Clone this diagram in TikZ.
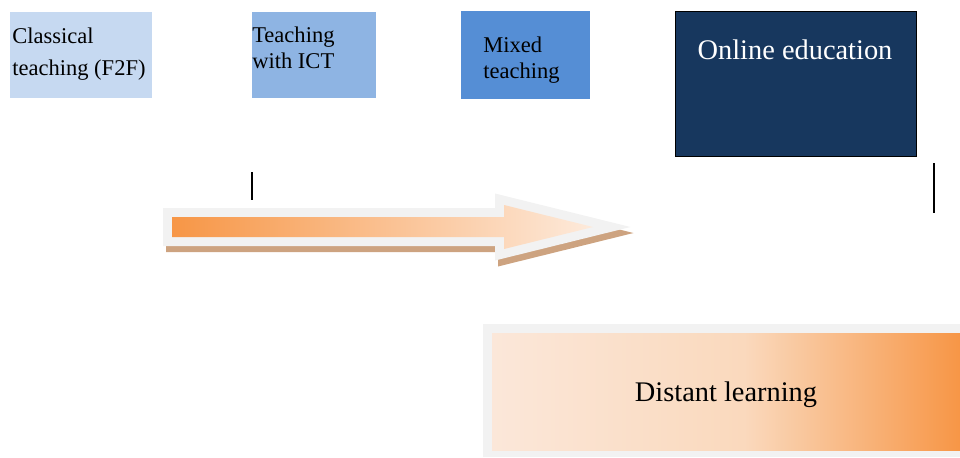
\documentclass[tikz,border=0pt]{standalone}
\usepackage{fontspec}
\setmainfont{Liberation Serif}
\definecolor{c1}{RGB}{198,217,241}
\definecolor{c2}{RGB}{142,180,227}
\definecolor{c3}{RGB}{85,142,213}
\definecolor{c4}{RGB}{23,55,94}
\definecolor{frame}{RGB}{242,242,242}
\definecolor{shadowtan}{RGB}{205,163,128}
\definecolor{orng}{RGB}{247,150,70}
\definecolor{peach}{RGB}{253,234,219}
\pgfdeclarehorizontalshading{distshade}{100bp}{rgb(0bp)=(0.984,0.906,0.851); rgb(25bp)=(0.984,0.906,0.851); rgb(52bp)=(0.98,0.85,0.74); rgb(75bp)=(0.969,0.588,0.275); rgb(100bp)=(0.969,0.588,0.275)}
\tikzset{
  box/.style={inner sep=0pt, outer sep=0pt},
  smalltxt/.style={inner sep=0pt, align=left, font=\fontsize{16.9}{19.5}\selectfont},
  bigtxt/.style={inner sep=0pt, font=\fontsize{21.3}{25}\selectfont},
  tick/.style={line width=1.5pt, black},
}
\begin{document}
\begin{tikzpicture}[x=0.75pt,y=-0.75pt]
\useasboundingbox (0,0) rectangle (960,457);
% boxes
\node[box, fill=c1, minimum width=142*0.75pt, minimum height=86*0.75pt] (b1) at (81,55) {};
\node[box, fill=c2, minimum width=124*0.75pt, minimum height=86*0.75pt] (b2) at (314,55) {};
\node[box, fill=c3, minimum width=129*0.75pt, minimum height=88*0.75pt] (b3) at (525.5,55) {};
\node[box, fill=c4, draw=black, line width=0.75pt, minimum width=241*0.75pt, minimum height=145*0.75pt] (b4) at (795.5,83.5) {};
% texts (anchored at the baseline of the last line)
\node[smalltxt, anchor=base west, font=\fontsize{16.9}{24}\selectfont] (t1) at (12,75) {Classical\\teaching (F2F)};
\node[smalltxt, anchor=base west] (t2) at (252,68) {Teaching\\with ICT};
\node[smalltxt, anchor=base west] (t3) at (483,78) {Mixed\\teaching};
\node[bigtxt, anchor=base, text=white] (t4) at (795,59) {Online education};
% ticks
\coordinate (l1a) at (252,172); \coordinate (l1b) at (252,200);
\coordinate (l2a) at (934,163); \coordinate (l2b) at (934,213);
\draw[tick] (l1a) -- (l1b);
\draw[tick] (l2a) -- (l2b);
% arrow shadow
\begin{scope}[shift={(3,6)}]
\draw[shadowtan, fill=shadowtan, line width=13.5pt, line join=miter]
  (172,217) -- (504,217) -- (504,205) -- (593,227) -- (504,249) -- (504,237) -- (172,237) -- cycle;
\end{scope}
% arrow frame
\draw[frame, fill=frame, line width=13.5pt, line join=miter]
  (172,217) -- (504,217) -- (504,205) -- (593,227) -- (504,249) -- (504,237) -- (172,237) -- cycle;
% arrow fill
\shade[left color=orng, right color=peach]
  (172,217) -- (504,217) -- (504,205) -- (593,227) -- (504,249) -- (504,237) -- (172,237) -- cycle;
% distant learning box
\fill[frame] (483,324) rectangle (960,457);
\shade[shading=distshade] (492,333) rectangle (960,450);
\node[bigtxt, anchor=base] (t5) at (726,401) {Distant learning};
\end{tikzpicture}
\end{document}
